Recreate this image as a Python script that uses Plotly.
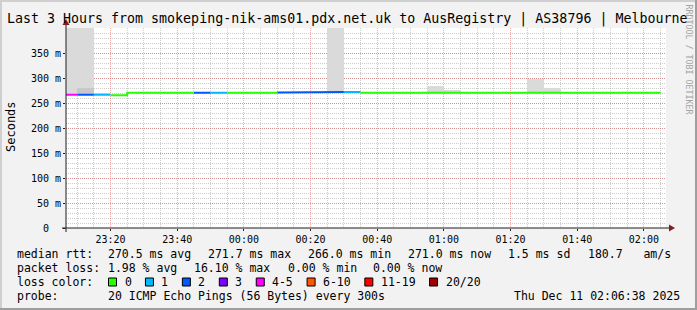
import plotly.graph_objects as go
from datetime import datetime, timedelta

# ---------------- data ----------------
title_text = "Last 3 Hours from smokeping-nik-ams01.pdx.net.uk to AusRegistry | AS38796 | Melbourne"
range_start = "2025-12-10 23:06:38"
range_end = "2025-12-11 02:06:38"

# end of each 5-minute RRD step
step_end = ["23:10", "23:15", "23:20", "23:25", "23:30", "23:35", "23:40", "23:45",
            "23:50", "23:55", "00:00", "00:05", "00:10", "00:15", "00:20", "00:25",
            "00:30", "00:35", "00:40", "00:45", "00:50", "00:55", "01:00", "01:05",
            "01:10", "01:15", "01:20", "01:25", "01:30", "01:35", "01:40", "01:45",
            "01:50", "01:55", "02:00", "02:05"]
median_ms = [266.5, 266.5, 266.5, 265.5, 270.5, 270.5, 270.5, 270.5,
             270.5, 270.5, 270.5, 270.5, 270.5, 270.8, 270.8, 270.8,
             272.0, 272.0, 270.5, 270.5, 270.5, 270.5, 270.5, 270.5,
             270.5, 270.5, 270.5, 270.5, 270.5, 270.5, 270.5, 270.5,
             270.5, 270.5, 270.5, 270.5]
loss_pings = [4, 2, 1, 0, 0, 0, 0, 0,
              2, 1, 0, 0, 0, 2, 2, 2,
              2, 1, 0, 0, 0, 0, 0, 0,
              0, 0, 0, 0, 0, 0, 0, 0,
              0, 0, 0, 0]
# top of outer (light) smoke band and inner (darker) smoke band
smoke_outer_ms = [430, 430, 268.5, 265.5, 270.5, 270.5, 270.5, 270.5,
                  270.5, 270.5, 270.5, 270.5, 270.5, 270.8, 270.8, 270.8,
                  430, 272.0, 270.5, 270.5, 270.5, 270.5, 284, 276,
                  270.5, 270.5, 270.5, 270.5, 299, 281, 270.5, 270.5,
                  270.5, 270.5, 270.5, 270.5]
smoke_inner_ms = [266.5, 281, 266.5, 265.5, 270.5, 270.5, 270.5, 270.5,
                  270.5, 270.5, 270.5, 270.5, 270.5, 270.8, 270.8, 270.8,
                  272.0, 272.0, 270.5, 270.5, 270.5, 270.5, 270.5, 270.5,
                  270.5, 270.5, 270.5, 270.5, 270.5, 270.5, 270.5, 270.5,
                  270.5, 270.5, 270.5, 270.5]

y_tickvals = [0, 50, 100, 150, 200, 250, 300, 350]
y_ticktext = ["0\u00a0\u00a0", "50 m", "100 m", "150 m", "200 m", "250 m", "300 m", "350 m"]

loss_labels = ["0", "1", "2", "3", "4-5", "6-10", "11-19", "20/20"]
loss_colors = ["#26ff00", "#00b8ff", "#0059ff", "#7e00ff", "#ff00ff", "#ff5500", "#ff0000", "#a10000"]
loss_upper = [0, 1, 2, 3, 5, 10, 19, 20]

median_stats = ["270.5 ms avg", "271.7 ms max", "266.0 ms min", "271.0 ms now", "1.5 ms sd", "180.7   am/s"]
loss_stats = ["1.98 % avg", "16.10 % max", "0.00 % min", "0.00 % now"]
probe_text = "20 ICMP Echo Pings (56 Bytes) every 300s"
stamp_text = "Thu Dec 11 02:06:38 2025"

# ---------------- geometry ----------------
W, H = 697, 310
PL, PT, PW, PH = 66, 28, 600, 200
MONO = "DejaVu Sans Mono"


def px(x):
    return (x - PL) / PW


def py(y):
    return (PT + PH - y) / PH


def to_dt(hm):
    h, m = map(int, hm.split(":"))
    day = 10 if h >= 12 else 11
    return datetime(2025, 12, day, h, m)


ends = [to_dt(t) for t in step_end]
starts = [e - timedelta(minutes=5) for e in ends]
mids = [s + timedelta(minutes=2.5) for s in starts]


def color_index(n):
    for i, u in enumerate(loss_upper):
        if n <= u:
            return i
    return len(loss_upper) - 1


fig = go.Figure()

# smoke
fig.add_trace(go.Bar(x=mids, y=[o - m for o, m in zip(smoke_outer_ms, median_ms)], base=median_ms,
                     width=300000, marker=dict(color="#dadada", line=dict(width=0)),
                     showlegend=False, hoverinfo="skip"))
fig.add_trace(go.Bar(x=mids, y=[i - m for i, m in zip(smoke_inner_ms, median_ms)], base=median_ms,
                     width=300000, marker=dict(color="#c8c8c8", line=dict(width=0)),
                     showlegend=False, hoverinfo="skip"))

# median lines coloured by loss
groups = {}
prev_ci = None
for s, e, v, n in zip(starts, ends, median_ms, loss_pings):
    ci = color_index(n)
    xs, ys = groups.setdefault(ci, ([], []))
    if prev_ci != ci and xs:
        xs.append(None)
        ys.append(None)
    xs += [s, e]
    ys += [v, v]
    prev_ci = ci
for ci, (xs, ys) in groups.items():
    fig.add_trace(go.Scatter(x=xs, y=ys, mode="lines", line=dict(color=loss_colors[ci], width=2),
                             showlegend=False, hoverinfo="skip"))

ann = []
shapes = []


def add_ann(**kw):
    d = dict(xref="paper", yref="paper", showarrow=False, borderpad=0)
    d.update(kw)
    ann.append(d)


# title
add_ann(x=px(346.5), y=py(19), text=title_text, xanchor="center", yanchor="middle",
        font=dict(family=MONO, size=13.3, color="black"))
# y title
add_ann(x=px(11), y=py(127), text="Seconds", textangle=-90,
        xanchor="center", yanchor="middle", font=dict(family=MONO, size=12, color="black"))
# watermark
add_ann(x=px(688.5), y=py(59), text="RRDTOOL / TOBI OETIKER", textangle=90,
        xanchor="center", yanchor="middle", font=dict(family=MONO, size=8.3, color="#a3a3a3"))

CW = 6.94


def label(x, y, text):
    add_ann(x=px(x), y=py(y), text=text, xanchor="left", yanchor="middle",
            font=dict(family=MONO, size=11.5, color="black"))


# legend line 1
label(16, 254, "median rtt:")
for x, t in zip([107, 207, 307, 407, 507, 587], median_stats):
    label(x, 254, t)
# line 2
label(16, 268, "packet loss:")
for x, t in zip([107, 193.3, 286.7, 372.3], loss_stats):
    label(x, 268, t)
# line 3
label(16, 282, "loss color:")
bx = 108.5
for lab, col in zip(loss_labels, loss_colors):
    shapes.append(dict(type="rect", xref="paper", yref="paper", x0=px(bx), x1=px(bx + 8),
                       y0=py(278), y1=py(286), fillcolor=col, line=dict(color="black", width=1)))
    label(bx + 15, 282, lab)
    bx = bx + 15 + len(lab) * CW + 15
# line 4
label(16, 296, "probe:")
label(107, 296, probe_text)
label(513, 296, stamp_text)

AX = "#1f1f1f"
AR = "#801f1f"
# axis lines with arrows
shapes.append(dict(type="line", xref="paper", yref="paper", x0=px(62), x1=px(670), y0=py(228), y1=py(228),
                   line=dict(color=AX, width=1)))
shapes.append(dict(type="line", xref="paper", yref="paper", x0=px(PL), x1=px(PL), y0=py(232), y1=py(24),
                   line=dict(color=AX, width=1)))
shapes.append(dict(type="path", xref="paper", yref="paper",
                   path=f"M {px(669)} {py(224.5)} L {px(669)} {py(231.5)} L {px(675)} {py(228)} Z",
                   fillcolor=AR, line=dict(color=AR, width=0)))
shapes.append(dict(type="path", xref="paper", yref="paper",
                   path=f"M {px(62.5)} {py(25)} L {px(69.5)} {py(25)} L {px(66)} {py(19)} Z",
                   fillcolor=AR, line=dict(color=AR, width=0)))
# frame (3D shading)
shapes.append(dict(type="rect", xref="paper", yref="paper", x0=px(0), x1=px(W), y0=py(0), y1=py(2),
                   fillcolor="#cfcfcf", line=dict(width=0)))
shapes.append(dict(type="rect", xref="paper", yref="paper", x0=px(0), x1=px(2), y0=py(0), y1=py(H),
                   fillcolor="#cfcfcf", line=dict(width=0)))
shapes.append(dict(type="rect", xref="paper", yref="paper", x0=px(0), x1=px(W), y0=py(H - 2), y1=py(H),
                   fillcolor="#9e9e9e", line=dict(width=0)))
shapes.append(dict(type="rect", xref="paper", yref="paper", x0=px(W - 2), x1=px(W), y0=py(0), y1=py(H),
                   fillcolor="#9e9e9e", line=dict(width=0)))

MAJ = "rgba(222,79,79,0.45)"
MIN = "rgba(143,143,143,0.45)"
fig.update_layout(
    width=W, height=H,
    margin=dict(l=PL, r=W - PL - PW, t=PT, b=H - PT - PH, pad=0),
    paper_bgcolor="#f2f2f2", plot_bgcolor="#ffffff",
    barmode="overlay", bargap=0, showlegend=False,
    annotations=ann, shapes=shapes,
    xaxis=dict(type="date", range=[range_start, range_end], tickformat="%H:%M",
               tick0="2025-12-10 23:20:00", dtick=1200000,
               showgrid=True, gridcolor=MAJ, griddash="1px,1px", gridwidth=1,
               minor=dict(dtick=300000, tick0="2025-12-10 23:20:00", showgrid=True,
                          gridcolor=MIN, griddash="1px,1px", gridwidth=1),
               ticks="outside", ticklen=2, tickcolor=AX, showline=False, zeroline=False,
               tickfont=dict(family=MONO, size=10, color="black"), fixedrange=True),
    yaxis=dict(range=[0, 400], tickvals=y_tickvals, ticktext=y_ticktext,
               showgrid=True, gridcolor=MAJ, griddash="1px,1px", gridwidth=1,
               minor=dict(dtick=10, tick0=0, showgrid=True,
                          gridcolor=MIN, griddash="1px,1px", gridwidth=1),
               ticks="outside", ticklen=2, tickcolor=AX, showline=False, zeroline=False,
               tickfont=dict(family=MONO, size=10, color="black"), fixedrange=True),
)

fig.write_html("out.html")
